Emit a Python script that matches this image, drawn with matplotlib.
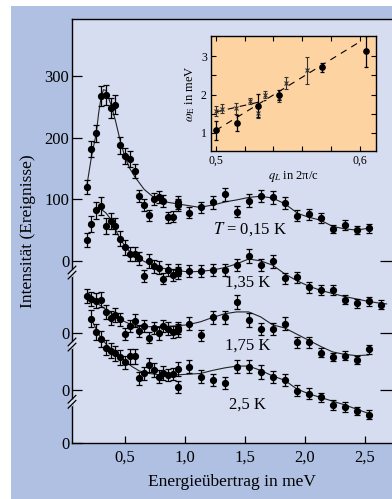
import matplotlib.pyplot as plt
from matplotlib.patches import Rectangle

plt.rcParams['font.family'] = ['Liberation Serif', 'DejaVu Serif']
plt.rcParams['mathtext.fontset'] = 'stix'

# spectra: energy transfer (meV), counts, errors
e_015 = [0.18, 0.22, 0.26, 0.30, 0.34, 0.38, 0.42, 0.46, 0.50, 0.54, 0.58, 0.62, 0.66, 0.70,
         0.74, 0.78, 0.82, 0.86, 0.90, 0.94, 0.94,
         1.03, 1.13, 1.23, 1.33, 1.43, 1.53, 1.63, 1.73, 1.83, 1.93, 2.03, 2.13, 2.23, 2.33, 2.43, 2.53]
n_015 = [120, 182, 207, 268, 270, 248, 254, 188, 171, 165, 146, 105, 91, 74,
         100, 104, 97, 71, 72, 95, 91,
         78, 87, 95, 108, 80, 98, 105, 103, 94, 73, 76, 69, 52, 58, 50, 53]
s_015 = [11, 13, 14, 16, 16, 16, 16, 14, 13, 13, 12, 10, 10, 9,
         10, 10, 10, 9, 9, 10, 10,
         9, 9, 10, 10, 9, 10, 10, 10, 10, 9, 9, 8, 7, 8, 7, 7]

e_135 = [0.18, 0.22, 0.26, 0.30, 0.34, 0.38, 0.42, 0.46, 0.50, 0.54, 0.58, 0.62, 0.66, 0.70,
         0.74, 0.78, 0.82, 0.86, 0.90, 0.94, 0.94,
         1.03, 1.13, 1.23, 1.33, 1.43, 1.53, 1.63, 1.73, 1.83, 1.93, 2.03, 2.13, 2.23, 2.33, 2.43, 2.53, 2.63]
n_135 = [151, 177, 199, 206, 174, 182, 174, 153, 139, 128, 128, 121, 92, 117,
         108, 106, 88, 102, 94, 102, 97,
         101, 101, 102, 102, 110, 125, 110, 116, 89, 90, 74, 69, 70, 54, 48, 51, 46]
s_135 = [12, 13, 14, 14, 13, 13, 13, 12, 12, 11, 11, 11, 10, 11,
         10, 10, 9, 10, 10, 10, 10,
         10, 10, 10, 10, 10, 11, 10, 11, 9, 9, 9, 8, 8, 7, 7, 7, 7]

e_175 = [0.18, 0.22, 0.26, 0.30, 0.34, 0.38, 0.42, 0.46, 0.50, 0.54, 0.58, 0.62, 0.66, 0.70,
         0.74, 0.78, 0.82, 0.86, 0.90, 0.94, 0.94,
         1.03, 1.13, 1.23, 1.33, 1.43, 1.53, 1.63, 1.73, 1.83, 1.93, 2.03, 2.13, 2.23, 2.33, 2.43, 2.53]
n_175 = [153, 148, 145, 147, 127, 117, 122, 115, 91, 104, 113, 96, 104, 85,
         101, 92, 104, 100, 94, 101, 97,
         108, 89, 118, 118, 143, 114, 99, 99, 108, 78, 78, 61, 54, 56, 49, 66]
s_175 = [12, 12, 12, 12, 11, 11, 11, 11, 10, 10, 11, 10, 10, 9,
         10, 10, 10, 10, 10, 10, 10,
         10, 9, 11, 11, 12, 11, 10, 10, 10, 9, 9, 8, 7, 7, 7, 8]

e_25 = [0.22, 0.26, 0.30, 0.34, 0.38, 0.42, 0.46, 0.50, 0.54, 0.58, 0.62, 0.66, 0.70,
        0.74, 0.78, 0.82, 0.86, 0.90, 0.94, 0.94,
        1.03, 1.13, 1.23, 1.33, 1.43, 1.53, 1.63, 1.73, 1.83, 1.93, 2.03, 2.13, 2.23, 2.33, 2.43, 2.53]
n_25 = [202, 180, 169, 155, 150, 146, 139, 131, 141, 141, 105, 113, 127,
        119, 108, 114, 111, 112, 120, 91,
        124, 108, 102, 97, 124, 124, 115, 107, 102, 85, 80, 74, 62, 59, 52, 46]
s_25 = [14, 13, 13, 12, 12, 12, 12, 11, 12, 12, 10, 11, 11,
        11, 10, 11, 10, 10, 11, 10,
        11, 10, 10, 10, 11, 11, 11, 10, 10, 9, 9, 8, 8, 8, 7, 7]

# fitted curves
fe_015 = [0.18, 0.22, 0.26, 0.28, 0.30, 0.32, 0.34, 0.38, 0.42, 0.46, 0.50, 0.54, 0.58, 0.66, 0.74,
          0.86, 1.02, 1.12, 1.24, 1.34, 1.43, 1.53, 1.63, 1.73, 1.83, 1.94, 2.03, 2.13, 2.23, 2.33, 2.43, 2.53]
fn_015 = [120, 169, 207, 240, 265, 278, 277, 255, 228, 195, 168, 150, 137, 116, 103,
          95, 90, 87, 91, 96, 99, 103, 105, 102, 93, 77, 71, 66, 56, 52, 50, 53]
fe_135 = [0.28, 0.30, 0.34, 0.38, 0.42, 0.46, 0.50, 0.54, 0.60, 0.66, 0.78, 0.94, 1.03, 1.13, 1.23,
          1.33, 1.43, 1.53, 1.63, 1.73, 1.83, 1.93, 2.03, 2.13, 2.23, 2.33, 2.43, 2.53, 2.63, 2.68]
fn_135 = [203, 201, 195, 185, 168, 152, 141, 132, 123, 116, 106, 101, 99, 100, 102,
          106, 112, 120, 117, 110, 96, 85, 76, 69, 64, 59, 55, 51, 48, 47]
fe_175 = [0.18, 0.24, 0.29, 0.34, 0.42, 0.50, 0.58, 0.66, 0.74, 0.90, 1.02, 1.13, 1.23,
          1.33, 1.43, 1.53, 1.63, 1.73, 1.83, 1.93, 2.03, 2.13, 2.23, 2.33, 2.43, 2.53]
fn_175 = [152, 145, 138, 131, 120, 111, 104, 103, 103, 104, 106, 111, 118,
          124, 127, 127, 119, 106, 101, 91, 81, 71, 62, 58, 56, 57]
fe_25 = [0.21, 0.26, 0.30, 0.36, 0.42, 0.50, 0.56, 0.62, 0.70, 0.78, 0.86, 0.96, 1.13, 1.23,
         1.33, 1.43, 1.53, 1.63, 1.73, 1.83, 1.93, 2.03, 2.13, 2.23, 2.33, 2.43, 2.53]
fn_25 = [205, 185, 170, 157, 148, 133, 124, 117, 113, 111, 110, 111, 113, 118,
         122, 125, 125, 118, 109, 102, 88, 80, 74, 68, 62, 55, 48]

offsets = [296, 179, 86, 0]
temps = ['$T$ = 0,15 K', '1,35 K', '1,75 K', '2,5 K']
label_pos = [(1.54, 348), (1.525, 260), (1.525, 159), (1.52, 63)]

# inset: dispersion
q_fit = [0.500, 0.515, 0.529, 0.544, 0.574, 0.604]
w_fit = [1.07, 1.26, 1.71, 1.99, 2.71, 3.13]
w_fit_err = [0.25, 0.2, 0.3, 0.12, 0.12, 0.4]
q_x = [0.500, 0.504, 0.514, 0.524, 0.529, 0.534, 0.544, 0.5485, 0.563]
w_x = [1.57, 1.63, 1.64, 1.83, 1.52, 2.00, 1.90, 2.31, 2.64]
w_x_err = [0.13, 0.12, 0.14, 0.08, 0.13, 0.10, 0.10, 0.15, 0.35]
line1_q = [0.500, 0.600]
line1_w = [1.07, 3.38]
line2_q = [0.500, 0.535]
line2_w = [1.55, 1.85]

outer = '#afc0e2'
inner = '#d6ddf0'
orange = '#fdd3a2'

fig = plt.figure(figsize=(3.92, 4.99), dpi=100)
fig.patches.append(Rectangle((11 / 392, 0), 1, (499 - 6) / 499, transform=fig.transFigure,
                             facecolor=outer, edgecolor='none', zorder=-10))

ax = fig.add_axes([72 / 392, 56 / 499, 320 / 392, 424 / 499])
ax.set_facecolor(inner)

series = [(e_015, n_015, s_015, fe_015, fn_015),
          (e_135, n_135, s_135, fe_135, fn_135),
          (e_175, n_175, s_175, fe_175, fn_175),
          (e_25, n_25, s_25, fe_25, fn_25)]
for (e, n, s, fe, fn), off, lab, pos in zip(series, offsets, temps, label_pos):
    ax.plot(fe, [v + off for v in fn], color='#222222', lw=0.8, zorder=2)
    ax.errorbar(e, [v + off for v in n], yerr=s, fmt='o', color='black', ms=4.2,
                elinewidth=0.9, capsize=2.4, capthick=0.9, zorder=3)
    ax.text(pos[0], pos[1], lab, ha='center', va='center', fontsize=12)

ax.set_xlim(0.058, 2.725)
ax.set_ylim(0, 689)
ax.set_xticks([0.5, 1.0, 1.5, 2.0, 2.5])
ax.set_xticklabels(['0,5', '1,0', '1,5', '2,0', '2,5'])
ax.set_yticks([0, offsets[2], offsets[1], offsets[0], offsets[0] + 100, offsets[0] + 200, offsets[0] + 300])
ax.set_yticklabels(['0', '0', '0', '0', '100', '200', '300'])
ax.tick_params(axis='y', direction='in', length=7, width=0.9, labelsize=12, pad=2)
ax.tick_params(axis='x', direction='in', length=5, width=0.9, labelsize=12, pad=5)
ax.spines['right'].set_visible(False)
for sp in ['left', 'bottom', 'top']:
    ax.spines[sp].set_linewidth(1.0)
ax.set_xlabel('Energieübertrag in meV', fontsize=12.5, labelpad=6)
ax.set_ylabel('Intensität (Ereignisse)', fontsize=12.5, labelpad=6)

# right-side zero ticks
ax2 = ax.twinx()
ax2.set_ylim(ax.get_ylim())
ax2.set_yticks(offsets[:3])
ax2.tick_params(direction='in', length=9, width=0.9, labelright=False)
for sp in ax2.spines.values():
    sp.set_visible(False)

# axis break marks on the left spine
for off in offsets[:3]:
    yb = (off - 19) / 689
    ax.plot([-0.004, 0.004], [yb - 0.009, yb + 0.005], transform=ax.transAxes,
            color=inner, lw=3, clip_on=False, zorder=5, solid_capstyle='butt')
    for d in (-0.006, 0.006):
        ax.plot([-0.012, 0.012], [yb + d - 0.009, yb + d + 0.009], transform=ax.transAxes,
                color='black', lw=0.9, clip_on=False, zorder=6)

# inset
ins = fig.add_axes([211 / 392, (499 - 151) / 499, 165 / 392, 115 / 499])
ins.set_facecolor(orange)
ins.plot(line1_q, line1_w, ls=(0, (6, 5)), color='black', lw=0.8)
ins.plot(line2_q, line2_w, ls=(0, (6, 5)), color='black', lw=0.8)
ins.errorbar(q_x, w_x, yerr=w_x_err, fmt='x', color='#333333', ms=3.5, mew=0.8,
             elinewidth=0.8, capsize=1.5, capthick=0.8)
ins.errorbar(q_fit, w_fit, yerr=w_fit_err, fmt='o', color='black', ms=3.8,
             elinewidth=0.9, capsize=1.5, capthick=0.9)
ins.set_xlim(0.4966, 0.6112)
ins.set_ylim(0.53, 3.53)
ins.set_xticks([0.50, 0.52, 0.54, 0.56, 0.58, 0.60])
ins.set_xticklabels(['0,5', '', '', '', '', '0,6'])
ins.set_yticks([1, 1.5, 2, 2.5, 3])
ins.set_yticklabels(['1', '', '2', '', '3'])
ins.tick_params(direction='in', length=3.5, width=0.8, labelsize=8.5, top=True, right=True, pad=3)
for sp in ins.spines.values():
    sp.set_linewidth(1.0)
ins.set_xlabel('$q_L$ in 2π/c', fontsize=9, labelpad=1)
ins.set_ylabel('$\\omega_\\mathrm{E}$ in meV', fontsize=9, labelpad=3)

fig.savefig('out.png', dpi=100, facecolor='white')
